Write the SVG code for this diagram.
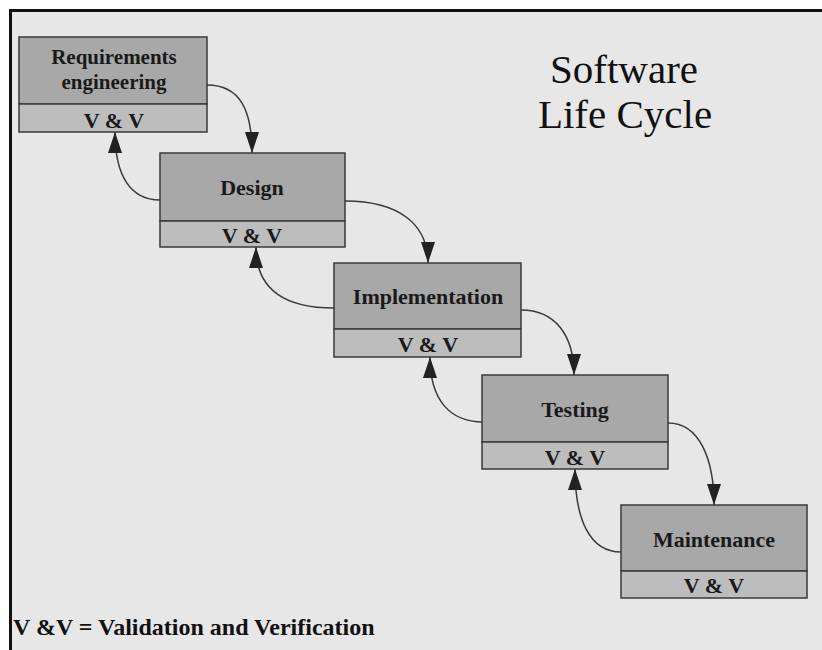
<svg xmlns="http://www.w3.org/2000/svg" width="822" height="650" viewBox="0 0 822 650">
<style>
.top{fill:#a8a8a8;stroke:#3a3a3a;stroke-width:1.5}
.bot{fill:#bdbdbd;stroke:#3a3a3a;stroke-width:1.5}
.lbl{font-family:"Liberation Serif","Times New Roman",serif;font-weight:bold;font-size:22px;fill:#1a1a1a;text-anchor:middle}
.sm{font-size:21px}
.title{font-family:"Liberation Serif","Times New Roman",serif;font-size:41px;fill:#111;text-anchor:middle}
.foot{font-family:"Liberation Serif","Times New Roman",serif;font-weight:bold;font-size:24px;fill:#111}
.conn path{fill:none;stroke:#3a3a3a;stroke-width:1.5;marker-end:url(#ah)}
</style>
<defs>
<marker id="ah" viewBox="0 0 21 14" refX="21" refY="7" markerWidth="21" markerHeight="14" markerUnits="userSpaceOnUse" orient="auto">
<path d="M0,0 L21,7 L0,14 z" fill="#222"/>
</marker>
</defs>
<rect x="0" y="0" width="822" height="650" fill="#ffffff"/>
<rect x="10" y="10" width="812" height="640" fill="#e7e7e7"/>
<line x1="9" y1="10.5" x2="822" y2="10.5" stroke="#111" stroke-width="3"/>
<line x1="10.5" y1="9" x2="10.5" y2="650" stroke="#111" stroke-width="3"/>

<g id="title">
<text class="title" x="624" y="83">Software</text>
<text class="title" x="625" y="128">Life Cycle</text>
</g>

<g class="conn" id="connectors">
<path d="M207,85 C240,85 252,110 252,153"/>
<path d="M345,201 C400,201 428,225 428,263"/>
<path d="M521,310 C555,310 574,335 574,375"/>
<path d="M668,423 C700,423 714,460 714,505"/>
<path d="M160,200 C130,200 115,175 115,132"/>
<path d="M334,308 C285,308 256,290 256,247"/>
<path d="M483,422 C450,422 430,400 430,357"/>
<path d="M621,552 C590,552 575,520 575,469"/>
</g>

<g id="requirements">
<rect class="top" x="19" y="37" width="188" height="67"/>
<rect class="bot" x="19" y="104" width="188" height="28"/>
<text class="lbl sm" x="114" y="64">Requirements</text>
<text class="lbl sm" x="114" y="89">engineering</text>
<text class="lbl" x="114" y="128">V &amp; V</text>
</g>

<g id="design">
<rect class="top" x="160" y="153" width="185" height="68"/>
<rect class="bot" x="160" y="221" width="185" height="26"/>
<text class="lbl" x="252" y="195">Design</text>
<text class="lbl" x="252" y="243">V &amp; V</text>
</g>

<g id="implementation">
<rect class="top" x="334" y="263" width="187" height="66"/>
<rect class="bot" x="334" y="329" width="187" height="28"/>
<text class="lbl" x="428" y="304">Implementation</text>
<text class="lbl" x="428" y="352">V &amp; V</text>
</g>

<g id="testing">
<rect class="top" x="482" y="375" width="186" height="67"/>
<rect class="bot" x="482" y="442" width="186" height="27"/>
<text class="lbl" x="575" y="417">Testing</text>
<text class="lbl" x="575" y="465">V &amp; V</text>
</g>

<g id="maintenance">
<rect class="top" x="621" y="505" width="186" height="66"/>
<rect class="bot" x="621" y="571" width="186" height="27"/>
<text class="lbl" x="714" y="547">Maintenance</text>
<text class="lbl" x="714" y="593">V &amp; V</text>
</g>

<g id="footnote">
<text class="foot" x="13" y="635">V &amp;V = Validation and Verification</text>
</g>
</svg>
